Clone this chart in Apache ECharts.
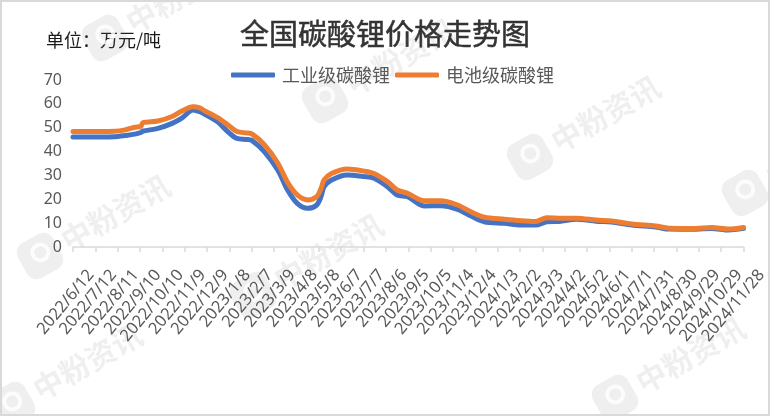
<!DOCTYPE html>
<html>
<head>
<meta charset="utf-8">
<script src="https://cdn.jsdelivr.net/npm/echarts@6/dist/echarts.min.js"></script>
<style>
html,body{margin:0;padding:0;background:#fff;}
#chart{width:770px;height:416px;}
</style>
</head>
<body>
<div id="chart"></div>
<script>
// Day offsets from 2022/6/12
const days = [0, 36, 56, 70, 83, 91, 94, 114, 133, 146, 161, 170, 177, 194, 208, 220, 233, 240, 257, 275, 288, 301, 315, 327, 333, 337, 347, 368, 391, 404, 422, 435, 449, 471, 494, 516, 534, 552, 579, 601, 621, 636, 655, 676, 702, 723, 750, 782, 800, 836, 857, 880, 900];
// 工业级碳酸锂 (万元/吨)
const industrial = [46.1, 46.1, 46.2, 46.7, 47.3, 48.0, 48.6, 49.7, 51.8, 54.0, 57.4, 56.7, 55.6, 52.5, 48.3, 45.5, 45.1, 44.7, 39.9, 32.2, 23.9, 18.3, 16.2, 17.6, 21.2, 25.3, 28.1, 30.2, 29.5, 28.8, 25.3, 21.8, 21.1, 17.2, 17.3, 15.8, 13.0, 10.6, 9.9, 9.2, 9.2, 10.6, 10.8, 11.6, 10.8, 10.5, 9.2, 8.4, 7.5, 7.4, 7.8, 7.1, 7.8];
// 电池级碳酸锂 (万元/吨)
const battery = [48.4, 48.4, 48.5, 49.1, 50.2, 50.6, 52.1, 52.8, 54.7, 57.0, 58.8, 58.3, 57.0, 54.2, 51.1, 48.4, 47.8, 47.4, 42.8, 35.1, 27.1, 21.8, 19.7, 21.1, 24.6, 28.1, 30.8, 32.7, 31.8, 30.8, 27.4, 23.9, 22.5, 19.4, 19.4, 17.6, 14.8, 12.5, 11.6, 11.0, 10.7, 12.3, 12.1, 12.1, 11.3, 10.9, 9.6, 8.8, 7.9, 7.8, 8.2, 7.5, 8.2];
const tickLabels = ['2022/6/12','2022/7/12','2022/8/11','2022/9/10','2022/10/10','2022/11/9','2022/12/9','2023/1/8','2023/2/7','2023/3/9','2023/4/8','2023/5/8','2023/6/7','2023/7/7','2023/8/6','2023/9/5','2023/10/5','2023/11/4','2023/12/4','2024/1/3','2024/2/2','2024/3/3','2024/4/2','2024/5/2','2024/6/1','2024/7/1','2024/7/31','2024/8/30','2024/9/29','2024/10/29','2024/11/28'];
const seriesNames = ['工业级碳酸锂', '电池级碳酸锂'];
const titleText = '全国碳酸锂价格走势图';
const unitText = '单位：万元/吨';
const wmText = '中粉资讯';

const chart = echarts.init(document.getElementById('chart'), null, {renderer: 'canvas'});
const CJK = '"Noto Sans CJK SC", "Noto Sans", sans-serif';
const wmFill = 'rgba(120,120,120,0.12)';
const wmPos = [[615,398],[12,405],[40,256],[253,295],[325,100],[105,38],[530,157],[745,193]];
const wm = wmPos.map(p => ({
  type: 'group', x: p[0], y: p[1], rotation: 0.52, z: 100,
  children: [
    {type: 'rect', shape: {x: -20, y: -20, width: 40, height: 40, r: 11}, style: {fill: wmFill}},
    {type: 'circle', shape: {cx: 2, cy: -3, r: 8}, style: {fill: null, stroke: 'rgba(255,255,255,0.8)', lineWidth: 4}},
    {type: 'text', x: 27, y: 0, style: {text: wmText, font: 'bold 30px ' + CJK, fill: wmFill, textAlign: 'left', textVerticalAlign: 'middle'}}
  ]
}));

chart.setOption({
  animation: false,
  backgroundColor: '#fff',
  graphic: [
    {type: 'rect', shape: {x: 1, y: 1, width: 768, height: 414}, style: {fill: null, stroke: '#d9d9d9', lineWidth: 2}, z: 100},
    {type: 'text', x: 385, y: 34, style: {text: titleText, font: '29px ' + CJK, fill: '#333333', stroke: '#333333', lineWidth: 0.5, textAlign: 'center', textVerticalAlign: 'middle'}},
    {type: 'text', x: 46, y: 40, style: {text: unitText, font: '18px ' + CJK, fill: '#1a1a1a', textAlign: 'left', textVerticalAlign: 'middle'}}
  ].concat(wm),
  legend: {
    left: 226, top: 61,
    icon: 'roundRect', itemWidth: 44, itemHeight: 5, itemGap: 5,
    textStyle: {fontSize: 18, color: '#595959', fontFamily: CJK, padding: [0, 0, 0, 2]},
    data: seriesNames
  },
  grid: {left: 73, right: 25, top: 80, bottom: 169, containLabel: false},
  xAxis: {
    type: 'value', min: 0, max: 900, interval: 30,
    axisLine: {show: true, lineStyle: {color: '#d9d9d9', width: 1.5}},
    axisTick: {show: true, length: 5, lineStyle: {color: '#d9d9d9', width: 1.5}},
    splitLine: {show: false},
    axisLabel: {
      rotate: 50, margin: 10, fontSize: 16.5, color: '#595959', fontFamily: '"Noto Sans", sans-serif',
      align: 'right', verticalAlign: 'top', padding: [15, 0, 0, 0],
      formatter: v => tickLabels[Math.round(v / 30)] || ''
    }
  },
  yAxis: {
    type: 'value', min: 0, max: 70, interval: 10,
    axisLine: {show: false}, axisTick: {show: false}, splitLine: {show: false},
    axisLabel: {fontSize: 16, color: '#595959', margin: 11, fontFamily: '"Noto Sans", sans-serif'}
  },
  series: [
    {name: seriesNames[0], type: 'line', data: days.map((d, i) => [d, industrial[i]]), showSymbol: false, symbol: 'none', smooth: 0.3,
     lineStyle: {color: '#4472C4', width: 5, cap: 'round', join: 'round'}, itemStyle: {color: '#4472C4'}},
    {name: seriesNames[1], type: 'line', data: days.map((d, i) => [d, battery[i]]), showSymbol: false, symbol: 'none', smooth: 0.3,
     lineStyle: {color: '#ED7D31', width: 5, cap: 'round', join: 'round'}, itemStyle: {color: '#ED7D31'}}
  ]
});
</script>
</body>
</html>
